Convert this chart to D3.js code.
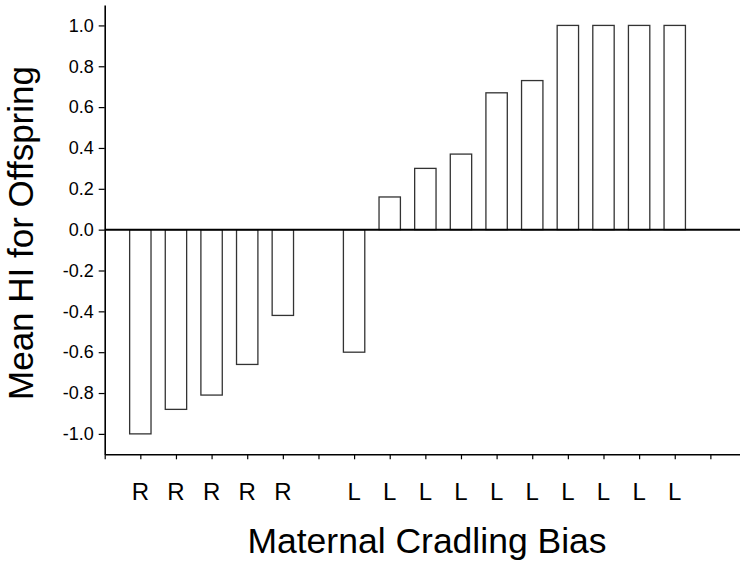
<!DOCTYPE html>
<html>
<head>
<meta charset="utf-8">
<script src="https://cdn.jsdelivr.net/npm/d3@7"></script>
<style>
  body { margin: 0; background: #fff; }
  svg { display: block; font-family: "Liberation Sans", Arial, sans-serif; }
</style>
</head>
<body>
<div id="chart"></div>
<script>
// cradling side of each mother, "" marks the empty slot between R and L
const bias = ["R", "R", "R", "R", "R", "", "L", "L", "L", "L", "L", "L", "L", "L", "L", "L"];
// mean handedness index of offspring, null for the empty slot
const meanHI = [-1.0, -0.88, -0.81, -0.66, -0.42, null, -0.60, 0.16, 0.30, 0.37, 0.67, 0.73, 1.0, 1.0, 1.0, 1.0];
// y tick labels
const yTicks = [-1.0, -0.8, -0.6, -0.4, -0.2, 0.0, 0.2, 0.4, 0.6, 0.8, 1.0];

const width = 740, height = 564;

//svg container
const svg = d3.select("#chart")
    .append("svg")
        .attr("width", width)
        .attr("height", height);

//scales: slot positions on x, HI on y
const x = d3.scaleLinear()
    .domain([0, 18])
    .range([104.7, 746]);

const y = d3.scaleLinear()
    .domain([-1.1, 1.1])
    .range([454.3, 5]);

const slotWidth = x(1) - x(0);
const barWidth = slotWidth * 0.6;

//bottom axis with tick marks only
const xAxis = svg.append("g")
    .attr("transform", `translate(0, ${y(-1.1)})`)
    .call(d3.axisBottom(x)
        .tickValues(d3.range(0, 18))
        .tickFormat("")
        .tickSize(5)
        .tickSizeOuter(0));
xAxis.select(".domain").attr("stroke-width", 1.6);
xAxis.selectAll(".tick line").attr("stroke-width", 1.2);

//left axis
const yAxis = svg.append("g")
    .attr("transform", `translate(${x(0)}, 0)`)
    .call(d3.axisLeft(y)
        .tickValues(yTicks)
        .tickFormat(d => d.toFixed(1))
        .tickSize(6)
        .tickPadding(5)
        .tickSizeOuter(0));
yAxis.select(".domain").attr("stroke-width", 1.6);
yAxis.selectAll(".tick line").attr("stroke-width", 1.2);
yAxis.selectAll(".tick text")
    .style("font-size", "18px")
    .style("font-family", "'Liberation Sans', Arial, sans-serif")
    .attr("fill", "#000");

//bars
const bars = meanHI
    .map((v, i) => ({ value: v, slot: i + 1 }))
    .filter(d => d.value !== null);

svg.append("g")
    .selectAll("rect")
    .data(bars)
    .join("rect")
        .attr("x", d => x(d.slot) - barWidth / 2)
        .attr("y", d => y(Math.max(0, d.value)))
        .attr("width", barWidth)
        .attr("height", d => Math.abs(y(d.value) - y(0)))
        .attr("fill", "#fff")
        .attr("stroke", "#333")
        .attr("stroke-width", 1.3);

//zero line
svg.append("line")
    .attr("x1", x(0))
    .attr("x2", width)
    .attr("y1", y(0))
    .attr("y2", y(0))
    .attr("stroke", "#000")
    .attr("stroke-width", 2);

//category labels
svg.append("g")
    .selectAll("text")
    .data(bias.map((b, i) => ({ label: b, slot: i + 1 })).filter(d => d.label !== ""))
    .join("text")
        .attr("x", d => x(d.slot))
        .attr("y", 500)
        .attr("text-anchor", "middle")
        .attr("font-size", 24)
        .text(d => d.label);

//axis titles
svg.append("text")
    .attr("x", 427)
    .attr("y", 553)
    .attr("text-anchor", "middle")
    .attr("font-size", 35.5)
    .text("Maternal Cradling Bias");

svg.append("text")
    .attr("transform", "translate(33, 233) rotate(-90)")
    .attr("text-anchor", "middle")
    .attr("font-size", 35)
    .text("Mean HI for Offspring");
</script>
</body>
</html>
